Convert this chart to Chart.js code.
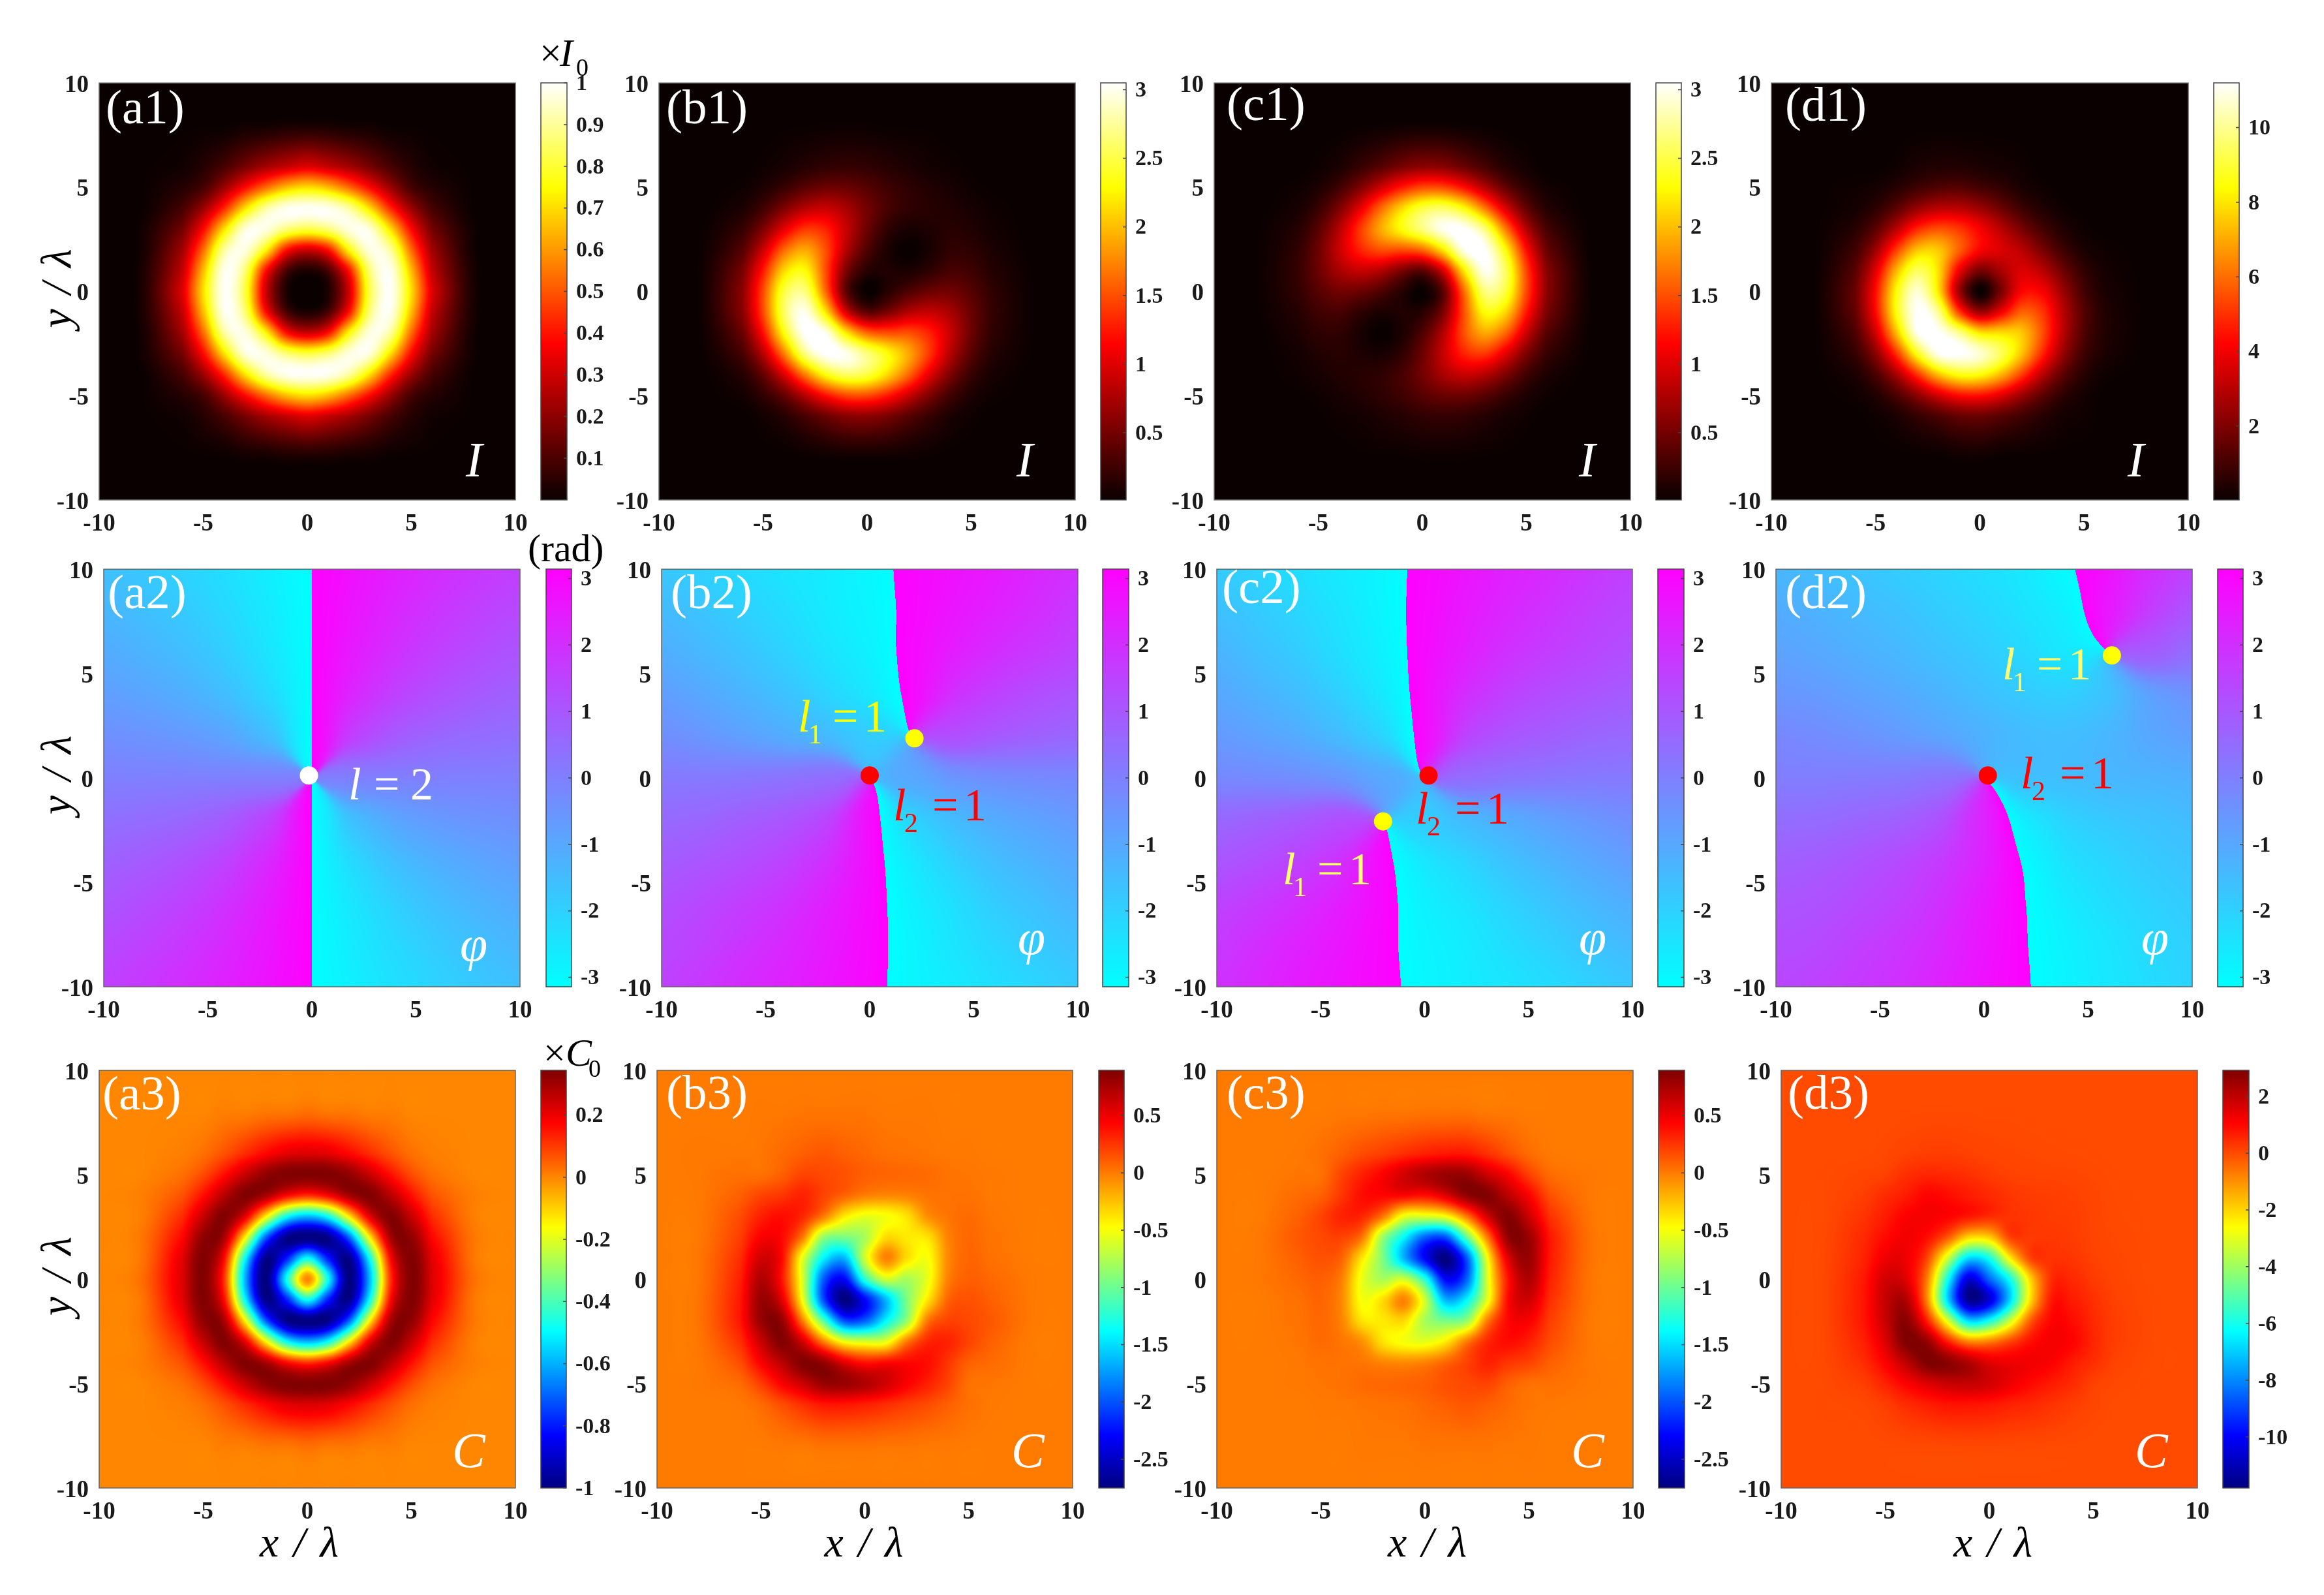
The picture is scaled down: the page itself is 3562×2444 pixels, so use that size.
<!DOCTYPE html>
<html><head><meta charset="utf-8">
<script src="https://cdn.jsdelivr.net/npm/chart.js@4"></script>
<style>html,body{margin:0;padding:0;background:#fff;width:3562px;height:2444px;overflow:hidden}canvas{position:absolute}</style>
</head><body>
<script>
// Estimated grid readings from the reference. Rows run from y=10 down to y=-10.
const gridAxis=[-10,-8,-6,-5,-4,-3,-2,-1,0,1,2,3,4,5,6,8,10];
const phaseAxis=[-10,-8,-6,-4,-2,0,2,4,6,8,10];
const Z=[0,0,0,0,0,0,0,0,0,0,0,0,0,0,0,0,0];
// intensity x100 (d1: x10)
const a1=[Z,
[0,0,0,0,0,1,1,2,2,2,1,1,0,0,0,0,0],
[0,0,1,4,9,16,23,28,32,28,23,16,9,4,1,0,0],
[0,0,4,9,22,38,53,65,70,65,53,38,22,9,4,0,0],
[0,0,9,22,43,70,90,98,99,98,90,70,43,22,9,0,0],
[0,1,16,38,70,96,97,87,82,87,97,96,70,38,16,1,0],
[0,1,23,53,90,97,75,40,30,40,75,97,90,53,23,1,0],
[0,2,28,65,98,87,40,10,3,10,40,87,98,65,28,2,0],
[0,2,32,70,99,82,30,3,0,3,30,82,99,70,32,2,0],
[0,2,28,65,98,87,40,10,3,10,40,87,98,65,28,2,0],
[0,1,23,53,90,97,75,40,30,40,75,97,90,53,23,1,0],
[0,1,16,38,70,96,97,87,82,87,97,96,70,38,16,1,0],
[0,0,9,22,43,70,90,98,99,98,90,70,43,22,9,0,0],
[0,0,4,9,22,38,53,65,70,65,53,38,22,9,4,0,0],
[0,0,1,4,9,16,23,28,32,28,23,16,9,4,1,0,0],
[0,0,0,0,0,1,1,2,2,2,1,1,0,0,0,0,0],Z];
const b1=[Z,
[0,0,0,0,1,1,2,2,2,1,1,1,0,0,0,0,0],
[0,0,0,3,7,13,18,20,18,13,9,5,3,1,0,0,0],
[0,0,3,10,22,37,46,45,36,25,17,11,7,3,1,0,0],
[0,0,9,26,54,80,89,74,49,29,18,14,11,7,3,0,0],
[0,1,21,54,102,138,129,88,46,18,8,10,14,11,5,0,0],
[0,2,35,90,160,190,150,80,33,9,0,8,18,17,9,0,0],
[0,3,51,125,210,230,150,54,15,11,9,18,29,25,13,1,0],
[0,3,60,147,247,266,163,40,0,15,33,46,49,36,18,1,0],
[0,3,58,146,257,300,220,97,40,54,80,88,74,45,20,1,0],
[0,2,44,120,230,305,300,220,163,150,150,129,89,46,18,1,0],
[0,1,28,80,169,265,305,300,266,230,190,138,80,37,13,1,0],
[0,0,13,42,97,169,230,257,247,210,160,102,54,22,7,0,0],
[0,0,5,18,42,80,120,146,147,125,90,54,26,10,3,0,0],
[0,0,0,5,13,28,44,58,60,51,35,21,9,3,0,0,0],
[0,0,0,0,0,1,2,3,3,3,2,1,0,0,0,0,0],Z];
const c1=[Z,
[0,0,0,0,0,1,2,3,3,3,2,1,0,0,0,0,0],
[0,0,0,3,9,21,35,51,60,58,44,28,13,5,0,0,0],
[0,0,3,10,26,54,90,125,147,146,120,80,42,18,5,0,0],
[0,0,7,22,54,102,160,210,247,257,230,169,97,42,13,0,0],
[0,1,13,37,80,138,190,230,266,300,305,265,169,80,28,1,0],
[0,1,18,46,89,129,150,150,163,220,300,305,230,120,44,2,0],
[0,1,20,45,74,88,80,54,40,97,220,300,257,146,58,3,0],
[0,1,18,36,49,46,33,15,0,40,163,266,247,147,60,3,0],
[0,1,13,25,29,18,9,11,15,54,150,230,210,125,51,3,0],
[0,0,9,17,18,8,0,9,33,80,150,190,160,90,35,2,0],
[0,0,5,11,14,10,8,18,46,88,129,138,102,54,21,1,0],
[0,0,3,7,11,14,18,29,49,74,89,80,54,26,9,0,0],
[0,0,1,3,7,11,17,25,36,45,46,37,22,10,3,0,0],
[0,0,0,1,3,5,9,13,18,20,18,13,7,3,0,0,0],
[0,0,0,0,0,1,1,1,2,2,2,1,1,0,0,0,0],Z];
const d1=[Z,Z,
[0,0,0,0,1,3,4,4,3,2,1,0,0,0,0,0,0],
[0,0,1,2,5,9,12,13,10,7,3,1,0,0,0,0,0],
[0,0,2,6,14,24,30,30,25,17,9,4,1,0,0,0,0],
[0,0,5,14,30,48,55,51,41,30,19,10,4,1,0,0,0],
[0,0,9,25,52,74,75,58,42,36,30,19,9,3,1,0,0],
[0,0,13,37,72,94,79,40,19,27,36,30,17,7,2,0,0],
[0,0,16,44,84,107,81,26,0,19,42,41,25,10,3,0,0],
[0,0,15,43,85,112,100,53,26,40,58,51,30,13,4,0,0],
[0,0,11,34,73,110,112,100,81,79,75,55,30,12,4,0,0],
[0,0,7,22,50,86,110,112,107,94,74,48,24,9,3,0,0],
[0,0,3,11,27,50,73,85,84,72,52,30,14,5,1,0,0],
[0,0,1,4,11,22,34,43,44,37,25,14,6,2,0,0,0],
[0,0,0,1,3,7,11,15,16,13,9,5,2,1,0,0,0],
[0,0,0,0,0,0,0,1,1,0,0,0,0,0,0,0,0],Z];
// phase, rad
const a2=[
[-1.57,-1.79,-2.06,-2.38,-2.75,3.14,2.75,2.38,2.06,1.79,1.57],
[-1.35,-1.57,-1.85,-2.21,-2.65,3.14,2.65,2.21,1.85,1.57,1.35],
[-1.08,-1.29,-1.57,-1.97,-2.5,3.14,2.5,1.97,1.57,1.29,1.08],
[-.76,-.93,-1.18,-1.57,-2.21,3.14,2.21,1.57,1.18,.93,.76],
[-.39,-.49,-.64,-.93,-1.57,3.14,1.57,.93,.64,.49,.39],
[0,0,0,0,0,null,0,0,0,0,0],
[.39,.49,.64,.93,1.57,3.14,-1.57,-.93,-.64,-.49,-.39],
[.76,.93,1.18,1.57,2.21,3.14,-2.21,-1.57,-1.18,-.93,-.76],
[1.08,1.29,1.57,1.97,2.5,3.14,-2.5,-1.97,-1.57,-1.29,-1.08],
[1.35,1.57,1.85,2.21,2.65,3.14,-2.65,-2.21,-1.85,-1.57,-1.35],
[1.57,1.79,2.06,2.38,2.75,3.14,-2.75,-2.38,-2.06,-1.79,-1.57]];
const b2=[
[-1.75,-2,-2.25,-2.5,-2.7,-2.95,3,2.75,2.5,2.2,1.95],
[-1.45,-1.7,-2,-2.3,-2.65,-2.9,3,2.65,2.35,2.05,1.75],
[-1.15,-1.4,-1.7,-2.05,-2.45,-2.8,2.95,2.45,2.05,1.75,1.5],
[-.75,-1,-1.3,-1.65,-2.1,-2.55,2.95,2,1.55,1.25,1.05],
[-.35,-.55,-.8,-1.1,-1.45,-1.9,null,1.2,.95,.75,.6],
[.15,.15,.2,.3,.45,null,-1,-.55,-.35,-.25,-.2],
[.55,.65,.85,1.05,1.5,2.85,-2.1,-1.5,-1.1,-.85,-.65],
[.9,1.05,1.25,1.55,2.05,2.85,-2.6,-2,-1.55,-1.25,-1],
[1.2,1.4,1.65,1.95,2.4,2.9,-2.8,-2.35,-1.9,-1.6,-1.3],
[1.4,1.6,1.9,2.2,2.55,2.95,-2.9,-2.5,-2.15,-1.85,-1.6],
[1.55,1.8,2.1,2.35,2.65,2.98,-2.92,-2.65,-2.35,-2.1,-1.85]];
const c2=[
[-1.85,-2.1,-2.35,-2.65,-2.92,2.98,2.65,2.35,2.1,1.8,1.55],
[-1.6,-1.85,-2.15,-2.5,-2.9,2.95,2.55,2.2,1.9,1.6,1.4],
[-1.3,-1.6,-1.9,-2.35,-2.8,2.9,2.4,1.95,1.65,1.4,1.2],
[-1,-1.25,-1.55,-2,-2.6,2.85,2.05,1.55,1.25,1.05,.9],
[-.65,-.85,-1.1,-1.5,-2.1,2.85,1.5,1.05,.85,.65,.55],
[-.2,-.25,-.35,-.55,-1,null,.45,.3,.2,.15,.15],
[.6,.75,.95,1.2,null,-1.9,-1.45,-1.1,-.8,-.55,-.35],
[1.05,1.25,1.55,2,2.95,-2.55,-2.1,-1.65,-1.3,-1,-.75],
[1.5,1.75,2.05,2.45,2.95,-2.8,-2.45,-2.05,-1.7,-1.4,-1.15],
[1.75,2.05,2.35,2.65,3,-2.9,-2.65,-2.3,-2,-1.7,-1.45],
[1.95,2.2,2.5,2.75,3,-2.95,-2.7,-2.5,-2.25,-2,-1.75]];
const d2=[
[-1.35,-1.5,-1.7,-1.9,-2.1,-2.35,-2.6,-3.05,2.7,2,1.5],
[-1.1,-1.25,-1.45,-1.65,-1.9,-2.15,-2.45,-2.8,2.55,1.65,1.05],
[-.85,-1,-1.2,-1.4,-1.65,-1.9,-2.2,-2.55,null,.85,.45],
[-.55,-.65,-.85,-1.05,-1.3,-1.6,-1.85,-1.95,-1.6,-.8,-.45],
[-.2,-.3,-.45,-.65,-.9,-1.25,-1.5,-1.55,-1.35,-1,-.8],
[.05,.05,.1,.15,.3,null,-1.6,-1.55,-1.4,-1.3,-1.2],
[.45,.5,.65,.8,1.2,2.3,-2.65,-2.05,-1.8,-1.65,-1.5],
[.8,.9,1.1,1.35,1.75,2.35,-3.05,-2.4,-2.1,-1.85,-1.7],
[1.05,1.15,1.35,1.6,2,2.55,3.14,-2.65,-2.3,-2.05,-1.85],
[1.25,1.35,1.6,1.85,2.2,2.65,3.12,-2.8,-2.5,-2.2,-2],
[1.4,1.55,1.75,2,2.35,2.75,3.1,-2.85,-2.55,-2.3,-2.05]];
// chirality x100
const a3=[Z,
[0,0,0,0,1,1,2,2,3,2,2,1,1,0,0,0,0],
[0,0,1,3,7,12,17,21,22,21,17,12,7,3,1,0,0],
[0,0,3,8,16,25,32,34,34,34,32,25,16,8,3,0,0],
[0,1,7,16,27,34,29,17,11,17,29,34,27,16,7,1,0],
[0,1,12,25,34,21,-14,-48,-59,-48,-14,21,34,25,12,1,0],
[0,2,17,32,29,-14,-70,-98,-100,-98,-70,-14,29,32,17,2,0],
[0,2,21,34,17,-48,-98,-80,-49,-80,-98,-48,17,34,21,2,0],
[0,3,22,34,11,-59,-100,-49,0,-49,-100,-59,11,34,22,3,0],
[0,2,21,34,17,-48,-98,-80,-49,-80,-98,-48,17,34,21,2,0],
[0,2,17,32,29,-14,-70,-98,-100,-98,-70,-14,29,32,17,2,0],
[0,1,12,25,34,21,-14,-48,-59,-48,-14,21,34,25,12,1,0],
[0,1,7,16,27,34,29,17,11,17,29,34,27,16,7,1,0],
[0,0,3,8,16,25,32,34,34,34,32,25,16,8,3,0,0],
[0,0,1,3,7,12,17,21,22,21,17,12,7,3,1,0,0],
[0,0,0,0,1,1,2,2,3,2,2,1,1,0,0,0,0],Z];
const b3=[Z,
[0,0,0,1,1,2,2,2,2,1,1,1,0,0,0,0,0],
[0,1,1,2,6,10,13,10,7,4,3,2,1,1,0,0,0],
[0,1,4,4,10,20,18,15,10,8,7,6,3,2,1,0,0],
[0,1,10,20,25,32,20,8,-2,-5,-3,2,3,3,1,0,0],
[0,1,17,33,40,30,0,-40,-55,-50,-38,-8,2,6,2,0,0],
[0,1,22,45,42,0,-85,-95,-78,-35,-40,-38,-3,7,3,0,0],
[0,2,28,60,42,-55,-140,-165,-65,-3,-35,-50,-5,8,4,0,0],
[0,2,33,72,38,-60,-195,-230,-125,-65,-78,-55,-2,10,7,1,0],
[0,3,36,80,55,-50,-200,-275,-230,-165,-95,-40,8,15,10,1,0],
[0,3,36,80,82,0,-105,-200,-195,-140,-85,0,20,18,13,1,0],
[0,2,27,62,88,60,0,-50,-60,-55,0,30,32,20,10,0,0],
[0,1,16,45,68,88,82,55,38,42,42,40,25,10,6,0,0],
[0,1,6,22,45,62,80,80,72,60,45,33,20,4,2,0,0],
[0,0,1,6,16,27,36,36,33,28,22,17,10,4,1,0,0],
[0,0,0,0,1,1,3,3,3,2,2,1,1,0,0,0,0],Z];
const c3=[Z,
[0,0,0,0,1,1,2,2,3,3,3,1,1,0,0,0,0],
[0,0,1,4,10,17,22,28,33,36,36,27,16,6,1,0,0],
[0,0,2,4,20,33,45,60,72,80,80,62,45,22,6,1,0],
[0,0,6,10,25,40,42,42,38,55,82,88,68,45,16,1,0],
[0,0,10,20,32,30,0,-55,-60,-50,0,60,88,62,27,2,0],
[0,1,13,18,20,0,-85,-140,-195,-200,-105,0,82,80,36,3,0],
[0,1,10,15,8,-40,-95,-165,-230,-275,-200,-50,55,80,36,3,0],
[0,1,7,10,-2,-55,-78,-65,-125,-230,-195,-60,38,72,33,2,0],
[0,0,4,8,-5,-50,-35,-3,-65,-165,-140,-55,42,60,28,2,0],
[0,0,3,7,-3,-38,-40,-35,-78,-95,-85,0,42,45,22,1,0],
[0,0,2,6,2,-8,-38,-50,-55,-40,0,30,40,33,17,1,0],
[0,0,1,3,3,2,-3,-5,-2,8,20,32,25,20,10,1,0],
[0,0,1,2,3,6,7,8,10,15,18,20,10,4,4,1,0],
[0,0,0,1,1,2,3,4,7,10,13,10,6,2,1,0,0],
[0,0,0,0,0,1,1,1,2,2,2,2,1,1,0,0,0],Z];
const d3=[Z,
[0,0,0,0,1,2,2,2,1,1,0,0,0,0,0,0,0],
[0,0,1,5,13,20,20,15,10,7,5,3,2,1,0,0,0],
[0,1,8,15,42,55,50,40,25,15,11,10,8,4,1,0,0],
[0,1,20,47,70,105,92,70,50,32,22,20,15,8,2,0,0],
[0,2,35,70,110,120,105,75,45,35,30,22,20,10,3,0,0],
[0,3,50,95,125,90,-20,-200,-190,10,25,30,22,11,5,0,0],
[0,4,60,130,130,10,-330,-680,-600,-240,10,35,32,15,7,0,0],
[0,5,75,170,150,-70,-600,-1050,-850,-600,-190,45,50,25,10,0,0],
[0,5,80,190,220,-80,-680,-1150,-1050,-680,-200,75,70,40,15,1,0],
[0,5,80,185,275,70,-300,-680,-600,-330,-20,105,92,50,20,1,0],
[0,4,65,155,290,260,70,-80,-70,10,90,120,105,55,20,1,0],
[0,3,45,110,200,290,275,220,150,130,125,110,70,42,13,0,0],
[0,2,20,60,110,155,185,190,170,130,95,70,47,15,5,0,0],
[0,1,5,20,45,65,80,80,75,60,50,35,20,8,1,0,0],
[0,0,0,1,2,3,4,5,5,4,3,2,1,0,0,0,0],Z];
// vortex markers
const dotsA2=[[-.14,.12,'#ffffff']];
const dotsB2=[[2.15,1.9,'#ffff00'],[0,.12,'#ff0000']];
const dotsC2=[[-2,-2.08,'#ffff00'],[.19,.12,'#ff0000']];
const dotsD2=[[6.14,5.87,'#ffff00'],[.18,.12,'#ff0000']];
// colorbar ticks
const ticksA1=[.1,.2,.3,.4,.5,.6,.7,.8,.9,1];
const ticksB1=[.5,1,1.5,2,2.5,3];
const ticksD1=[2,4,6,8,10];
const ticksPhase=[-3,-2,-1,0,1,2,3];
const ticksA3=[-1,-.8,-.6,-.4,-.2,0,.2];
const ticksB3=[-2.5,-2,-1.5,-1,-.5,0,.5];
const ticksD3=[-10,-8,-6,-4,-2,0,2];
const axisTicks=[-10,-5,0,5,10];

// ---- layout & styling ----
const SERIF="'Liberation Serif'";
const R1=[127,766],R2=[872,1512],R3=[1640,2280];
const cfg=[
{n:'a1',g:a1,f:.01,cm:'hot',r:[0,1],t:ticksA1,row:R1,x:[152,790],cb:[829,869],tag:[10,62],sym:['I',-76,-36],ylab:1},
{n:'b1',g:b1,f:.01,cm:'hot',r:[.01,3.05],t:ticksB1,row:R1,x:[1010,1648],cb:[1687,1726],tag:[11,62],sym:['I',-90,-36]},
{n:'c1',g:c1,f:.01,cm:'hot',r:[.01,3.05],t:ticksB1,row:R1,x:[1861,2499],cb:[2538,2577],tag:[19,57],sym:['I',-79,-36]},
{n:'d1',g:d1,f:.1,cm:'hot',r:[.02,11.2],t:ticksD1,row:R1,x:[2715,3354],cb:[3393,3432],tag:[21,58],sym:['I',-93,-36]},
{n:'a2',g:a2,phase:1,cm:'cool',r:[-Math.PI,Math.PI],t:ticksPhase,row:R2,x:[159,797],cb:[837,876],tag:[6,60],sym:['φ',-92,-40],dots:dotsA2,ylab:1,
 eq:[{x:375,y:353,c:'#fff',plain:1}]},
{n:'b2',g:b2,phase:1,cm:'cool',r:[-Math.PI,Math.PI],t:ticksPhase,row:R2,x:[1014,1652],cb:[1690,1730],tag:[14,60],sym:['φ',-92,-50],dots:dotsB2,
 eq:[{x:209,y:249,c:'#ffff00',s:'1'},{x:355,y:385,c:'#ff0000',s:'2'}]},
{n:'c2',g:c2,phase:1,cm:'cool',r:[-Math.PI,Math.PI],t:ticksPhase,row:R2,x:[1865,2502],cb:[2541,2581],tag:[8,52],sym:['φ',-82,-50],dots:dotsC2,
 eq:[{x:101,y:483,c:'#ffff70',s:'1'},{x:305,y:390,c:'#ff0000',s:'2'}]},
{n:'d2',g:d2,phase:1,cm:'cool',r:[-Math.PI,Math.PI],t:ticksPhase,row:R2,x:[2722,3360],cb:[3399,3438],tag:[14,60],sym:['φ',-78,-50],dots:dotsD2,
 eq:[{x:347,y:169,c:'#ffff70',s:'1'},{x:375,y:336,c:'#ff0000',s:'2'}]},
{n:'a3',g:a3,f:.01,cm:'jet',r:[-1,.344],t:ticksA3,row:R3,x:[152,790],cb:[829,868],tag:[5,60],sym:['C',-97,-32],ylab:1,xlab:-11},
{n:'b3',g:b3,f:.01,cm:'jet',r:[-2.75,.895],t:ticksB3,row:R3,x:[1007,1644],cb:[1684,1723],tag:[14,59],sym:['C',-94,-32],xlab:0},
{n:'c3',g:c3,f:.01,cm:'jet',r:[-2.75,.895],t:ticksB3,row:R3,x:[1865,2503],cb:[2542,2582],tag:[15,59],sym:['C',-95,-32],xlab:5},
{n:'d3',g:d3,f:.01,cm:'jet',r:[-11.8,2.92],t:ticksD3,row:R3,x:[2730,3368],cb:[3407,3447],tag:[10,59],sym:['C',-96,-32],xlab:7}
];

function lut(name){
  const n=1024,o=new Uint8ClampedArray(n*3);
  for(let i=0;i<n;i++){
    const t=i/(n-1);let r,g,b;
    if(name==='hot'){r=.0417+t/.375*.9583;g=(t-.375)/.375;b=(t-.75)/.25;}
    else if(name==='cool'){r=t;g=1-t;b=1;}
    else{r=Math.min(1.5-Math.abs(4*t-3),1);g=Math.min(1.5-Math.abs(4*t-2),1);b=Math.min(1.5-Math.abs(4*t-1),1);}
    o[i*3]=255*Math.max(0,Math.min(1,r));o[i*3+1]=255*Math.max(0,Math.min(1,g));o[i*3+2]=255*Math.max(0,Math.min(1,b));
  }
  return o;
}
const LUTS={hot:lut('hot'),cool:lut('cool'),jet:lut('jet')};
function stencil(G,v){
  const n=G.length;let i=0;
  while(i<n-2&&v>G[i+1])i++;
  const t=Math.max(0,Math.min(1,(v-G[i])/(G[i+1]-G[i])));
  const c=k=>Math.max(0,Math.min(n-1,k));
  return{id:[c(i-1),i,i+1,c(i+2)],w:[-.5*t*t*t+t*t-.5*t,1.5*t*t*t-2.5*t*t+1,-1.5*t*t*t+2*t*t+.5*t,.5*t*t*t-.5*t*t]};
}
function sample(M,sx,sy){
  let s=0;
  for(let j=0;j<4;j++){const r=M[sy.id[j]];let q=0;
    for(let i=0;i<4;i++)q+=sx.w[i]*r[sx.id[i]];
    s+=sy.w[j]*q;}
  return s;
}
const heatPlugin={
  id:'heat',
  beforeDatasetsDraw(chart,_a,o){
    const p=o.panel,{left,top,width,height}=chart.chartArea;
    const W=Math.round(width),H=Math.round(height);
    const xs=chart.scales.x,ys=chart.scales.y,cv=document.createElement('canvas');
    cv.width=W;cv.height=H;const c=cv.getContext('2d'),im=c.createImageData(W,H),d=im.data;
    const L=LUTS[p.cm],lo=p.r[0],hi=p.r[1];
    const G=p.phase?phaseAxis:gridAxis;
    const rows=p.g.slice().reverse();
    let M1,M2;
    if(p.phase){
      M1=rows.map(r=>r.map(v=>v===null?0:Math.cos(v)));
      M2=rows.map(r=>r.map(v=>v===null?0:Math.sin(v)));
    }else M1=rows.map(r=>r.map(v=>v*p.f));
    const SX=[],SY=[];
    for(let i=0;i<W;i++)SX.push(stencil(G,xs.getValueForPixel(left+i+.5)));
    for(let j=0;j<H;j++)SY.push(stencil(G,ys.getValueForPixel(top+j+.5)));
    let k=0;
    for(let j=0;j<H;j++)for(let i=0;i<W;i++){
      const v=p.phase?Math.atan2(sample(M2,SX[i],SY[j]),sample(M1,SX[i],SY[j])):sample(M1,SX[i],SY[j]);
      let t=Math.round((v-lo)/(hi-lo)*1023);t=t<0?0:t>1023?1023:t;
      d[k++]=L[t*3];d[k++]=L[t*3+1];d[k++]=L[t*3+2];d[k++]=255;
    }
    c.putImageData(im,0,0);
    chart.ctx.drawImage(cv,left,top,width,height);
  },
  afterDatasetsDraw(chart,_a,o){
    const p=o.panel,ctx=chart.ctx,a=chart.chartArea;
    ctx.save();
    ctx.strokeStyle='#666';ctx.lineWidth=1.5;ctx.strokeRect(a.left,a.top,a.width,a.height);
    ctx.textAlign='left';ctx.textBaseline='alphabetic';
    ctx.fillStyle='#fff';ctx.font=`75px ${SERIF}`;
    ctx.fillText('('+p.n+')',a.left+p.tag[0],a.top+p.tag[1]);
    ctx.font=`italic 76px ${SERIF}`;
    ctx.fillText(p.sym[0],a.right+p.sym[1],a.bottom+p.sym[2]);
    (p.eq||[]).forEach(e=>{
      const x=a.left+e.x,y=a.top+e.y;
      ctx.fillStyle=e.c;
      ctx.font=`italic 70px ${SERIF}`;ctx.fillText('l',x,y);
      ctx.font=`70px ${SERIF}`;
      if(e.plain){ctx.fillText('=',x+39,y);ctx.fillText('2',x+95,y);}
      else{
        const two=e.s==='2';
        ctx.fillText('=',x+(two?60:53),y);ctx.fillText('1',x+(two?108:101),y);
        ctx.font=`42px ${SERIF}`;ctx.fillText(e.s,x+(two?17:16),y+18);
      }
    });
    ctx.fillStyle='#000';
    if(p.ylab){
      ctx.save();ctx.translate(a.left-44-(p.n==='a2'?7:0),(a.top+a.bottom)/2);ctx.rotate(-Math.PI/2);
      ctx.font=`italic 66px ${SERIF}`;ctx.letterSpacing='3px';ctx.textAlign='center';
      ctx.fillText('y / λ',6,0);ctx.restore();
    }
    if(p.xlab!==undefined){
      ctx.save();ctx.font=`italic 66px ${SERIF}`;ctx.letterSpacing='3px';ctx.textAlign='center';
      ctx.fillText('x / λ',(a.left+a.right)/2+p.xlab,a.bottom+105);ctx.restore();
    }
    ctx.restore();
  }
};
const barPlugin={
  id:'bar',
  beforeDatasetsDraw(chart,_a,o){
    const p=o.panel,ctx=chart.ctx,a=chart.chartArea,y=chart.scales.y,L=LUTS[p.cm];
    for(let j=Math.round(a.top);j<Math.round(a.bottom);j++){
      let t=Math.round((y.getValueForPixel(j+.5)-p.r[0])/(p.r[1]-p.r[0])*1023);t=t<0?0:t>1023?1023:t;
      ctx.fillStyle=`rgb(${L[t*3]},${L[t*3+1]},${L[t*3+2]})`;
      ctx.fillRect(a.left,j,a.width,1);
    }
  },
  afterDatasetsDraw(chart,_a,o){
    const p=o.panel,ctx=chart.ctx,a=chart.chartArea,y=chart.scales.y;
    ctx.save();
    ctx.strokeStyle='#444';ctx.lineWidth=1.5;ctx.strokeRect(a.left,a.top,a.width,a.height);
    ctx.beginPath();
    p.t.forEach(v=>{const q=y.getPixelForValue(v);ctx.moveTo(a.right,q);ctx.lineTo(a.right-5,q);});
    ctx.stroke();
    ctx.fillStyle='#000';ctx.textBaseline='alphabetic';ctx.textAlign='left';
    if(p.n==='a1'){
      ctx.font=`60px ${SERIF}`;ctx.fillText('×',a.left-2,a.top-26);
      ctx.font=`italic 60px ${SERIF}`;ctx.fillText('I',a.left+29,a.top-26);
      ctx.font=`38px ${SERIF}`;ctx.fillText('0',a.left+54,a.top-11);
    }else if(p.n==='a2'){
      ctx.font=`60px ${SERIF}`;ctx.fillText('(rad)',a.left-28,a.top-12);
    }else if(p.n==='a3'){
      ctx.font=`60px ${SERIF}`;ctx.fillText('×',a.left+4,a.top-7);
      ctx.font=`italic 60px ${SERIF}`;ctx.fillText('C',a.left+38,a.top-7);
      ctx.font=`38px ${SERIF}`;ctx.fillText('0',a.left+73,a.top+10);
    }
    ctx.restore();
  }
};
const tickColor='#1a1a1a';
function mkCanvas(l,t,w,h){
  const c=document.createElement('canvas');c.width=w;c.height=h;
  c.style.left=l+'px';c.style.top=t+'px';c.style.width=w+'px';c.style.height=h+'px';
  document.body.appendChild(c);return c;
}
cfg.forEach(p=>{
  const mL=100,mR=40,mT=30,mB=130;
  const w=p.x[1]-p.x[0],h=p.row[1]-p.row[0];
  const cv=mkCanvas(p.x[0]-mL,p.row[0]-mT,mL+w+mR,mT+h+mB);
  const G=p.phase?phaseAxis:gridAxis,rows=p.g.slice().reverse(),cells=[];
  rows.forEach((r,j)=>r.forEach((v,i)=>cells.push({x:G[i],y:G[j],v:v})));
  new Chart(cv,{
    type:'scatter',
    data:{datasets:[
      {label:p.n,data:cells,pointRadius:0,showLine:false},
      {label:'vortex',data:(p.dots||[]).map(d=>({x:d[0],y:d[1]})),pointRadius:14,pointHoverRadius:14,borderWidth:0,
       backgroundColor:(p.dots||[]).map(d=>d[2]),showLine:false}
    ]},
    plugins:[heatPlugin],
    options:{responsive:false,animation:false,devicePixelRatio:1,events:[],
      layout:{padding:{left:0,right:mR,top:mT,bottom:0}},
      plugins:{legend:{display:false},tooltip:{enabled:false},heat:{panel:p}},
      scales:{
        x:{type:'linear',min:-10,max:10,grid:{display:false},border:{display:false},
          afterBuildTicks:s=>{s.ticks=axisTicks.map(v=>({value:v}));},
          afterFit:s=>{s.height=mB;},
          ticks:{autoSkip:false,maxRotation:0,padding:7,color:tickColor,font:{family:SERIF,size:37,weight:'bold'}}},
        y:{type:'linear',min:-10,max:10,grid:{display:false},border:{display:false},
          afterBuildTicks:s=>{s.ticks=axisTicks.map(v=>({value:v}));},
          afterFit:s=>{s.width=mL;},
          ticks:{autoSkip:false,padding:8,labelOffset:4,color:tickColor,font:{family:SERIF,size:37,weight:'bold'}}}
      }}
  });
  // colorbar
  const cw=p.cb[1]-p.cb[0],pl=40,pr=110,pt=100,pb=30;
  const bv=mkCanvas(p.cb[0]-pl,p.row[0]-pt,pl+cw+pr,pt+h+pb);
  new Chart(bv,{
    type:'scatter',
    data:{datasets:[{label:p.n+' colorbar',data:p.t.map(v=>({x:0,y:v})),pointRadius:0}]},
    plugins:[barPlugin],
    options:{responsive:false,animation:false,devicePixelRatio:1,events:[],
      layout:{padding:{left:pl,right:0,top:pt,bottom:pb}},
      plugins:{legend:{display:false},tooltip:{enabled:false},bar:{panel:p}},
      scales:{
        x:{type:'linear',display:false,min:-1,max:1},
        y:{type:'linear',position:'right',min:p.r[0],max:p.r[1],grid:{display:false},border:{display:false},
          afterBuildTicks:s=>{s.ticks=p.t.map(v=>({value:v}));},
          afterFit:s=>{s.width=pr;},
          ticks:{autoSkip:false,padding:6,labelOffset:2,color:tickColor,font:{family:SERIF,size:34,weight:'bold'},
            callback:v=>String(Math.round(v*10)/10)}}
      }}
  });
});
</script>
</body></html>
